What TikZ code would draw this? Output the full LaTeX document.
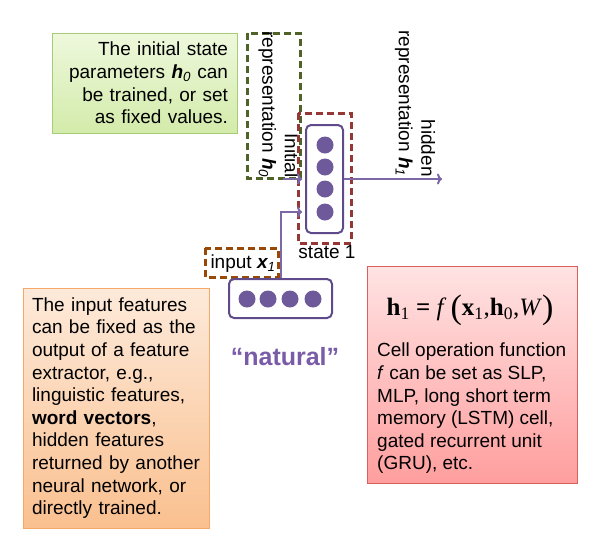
\documentclass[tikz,border=0pt]{standalone}
\usepackage{fontspec}
\setmainfont{Liberation Sans}
\newfontfamily\eqfont{Liberation Serif}
\usetikzlibrary{arrows.meta}

\definecolor{greentop}{HTML}{EEF8DC}
\definecolor{greenbot}{HTML}{D3EBAA}
\definecolor{greenline}{HTML}{A6CC78}
\definecolor{orangetop}{HTML}{FDEADA}
\definecolor{orangebot}{HTML}{FAC08F}
\definecolor{orangeline}{HTML}{F5A868}
\definecolor{redtop}{HTML}{FFE3E3}
\definecolor{redbot}{HTML}{FF9E9E}
\definecolor{redline}{HTML}{D8605F}
\definecolor{olivedash}{HTML}{4F6228}
\definecolor{reddash}{HTML}{953735}
\definecolor{browndash}{HTML}{984807}
\definecolor{vecpurple}{HTML}{5F4B8B}
\definecolor{unitpurple}{HTML}{6E5A9A}
\definecolor{flowpurple}{HTML}{7C68A6}
\definecolor{wordpurple}{HTML}{7A5BA8}

\newcommand{\bigparen}[1]{\raisebox{-2.5pt}{\fontsize{34}{34}\selectfont #1}}

\tikzset{
  note/.style={draw, line width=1pt, inner sep=0pt},
  lbl/.style={font=\fontsize{19}{22.6}\selectfont, inner sep=0pt},
  vec/.style={draw=vecpurple, line width=2pt, rounded corners=5pt, inner sep=0pt},
  unit/.style={circle, fill=unitpurple, minimum size=17pt, inner sep=0pt},
  flow/.style={draw=flowpurple, line width=2pt, -{To[length=5pt,width=11pt]}},
  dashbox/.style={line width=3pt, dash pattern=on 7pt off 4pt},
}

\begin{document}
\begin{tikzpicture}[x=1pt, y=-1pt]
  \useasboundingbox (0,0) rectangle (613,550);

  % note on the initial state
  \node[note, lbl, draw=greenline, top color=greentop, bottom color=greenbot,
        minimum width=185, minimum height=100, text width=167, align=right]
        (initnote) at (144.5,83)
        {The initial state\\parameters \textit{\textbf{h}\textsubscript{0}} can\\be trained, or set\\as fixed values.};

  % initial representation h0
  \draw[dashbox, olivedash] (247,33) rectangle (300,178); % box round h0
  \node[lbl, rotate=-90, align=right] (h0lbl) at (278.5,104.5)
        {Initial\\representation \textit{\textbf{h}\textsubscript{0}}};

  % hidden state 1
  \draw[dashbox, reddash] (298,113) rectangle (351,243); % box round state 1
  \node[vec, minimum width=37, minimum height=108] (cell) at (324.5,179) {};
  \foreach \i/\y in {1/145,2/167,3/189,4/212}
    \node[unit] (s\i) at (325,\y) {};
  \node[lbl, anchor=base] (statelbl) at (327,258) {state 1};

  % hidden representation h1
  \node[lbl, rotate=-90, align=right] (h1lbl) at (415,103.5)
        {hidden\\representation \textit{\textbf{h}\textsubscript{1}}};

  % input x1
  \draw[dashbox, browndash] (205,248) rectangle (278,277); % box round input
  \node[lbl, anchor=base] (inlbl) at (243,268) {input \textit{\textbf{x}\textsubscript{1}}};
  \node[vec, minimum width=103, minimum height=39] (xvec) at (280.5,298.5) {};
  \foreach \i/\x in {1/247,2/268,3/290,4/313}
    \node[unit] (x\i) at (\x,299) {};
  \node[inner sep=0pt, font=\fontsize{25}{30}\selectfont\bfseries, text=wordpurple]
        (word) at (285,357) {“natural”};

  % connectors
  \coordinate (h0end) at (283,179);
  \coordinate (hout) at (442,179);
  \draw[flow, shorten >=3pt] (h0end) -- (cell.west);
  \draw[flow, shorten >=3pt] (xvec.north) |- (cell.west |- s4);
  \draw[flow] (cell.east) -- (hout);

  % note on the input features
  \node[note, lbl, draw=orangeline, top color=orangetop, bottom color=orangebot,
        minimum width=186, minimum height=240, text width=168, align=left]
        (innote) at (116,408)
        {The input features\\can be fixed as the\\output of a feature\\extractor, e.g.,\\linguistic features,\\\textbf{word vectors},\\hidden features\\returned by another\\neural network, or\\directly trained.};

  % note on the cell function
  \node[note, draw=redline, top color=redtop, bottom color=redbot,
        minimum width=210, minimum height=217] (cellnote) at (472,374.5) {};
  \node[inner sep=0pt, font=\eqfont\fontsize{25}{28}\selectfont] (eqn) at (470,310)
        {\textbf{h}\textsubscript{1} \textbf{=} \textit{f}\,\bigparen{(}\textbf{x}\textsubscript{1},\textbf{h}\textsubscript{0},\textit{W}\bigparen{)}};
  \node[lbl, anchor=west, align=left] (celltext) at (377,408.5)
        {Cell operation function\\\textit{f} can be set as SLP,\\MLP, long short term\\memory (LSTM) cell,\\gated recurrent unit\\(GRU), etc.};
\end{tikzpicture}
\end{document}
